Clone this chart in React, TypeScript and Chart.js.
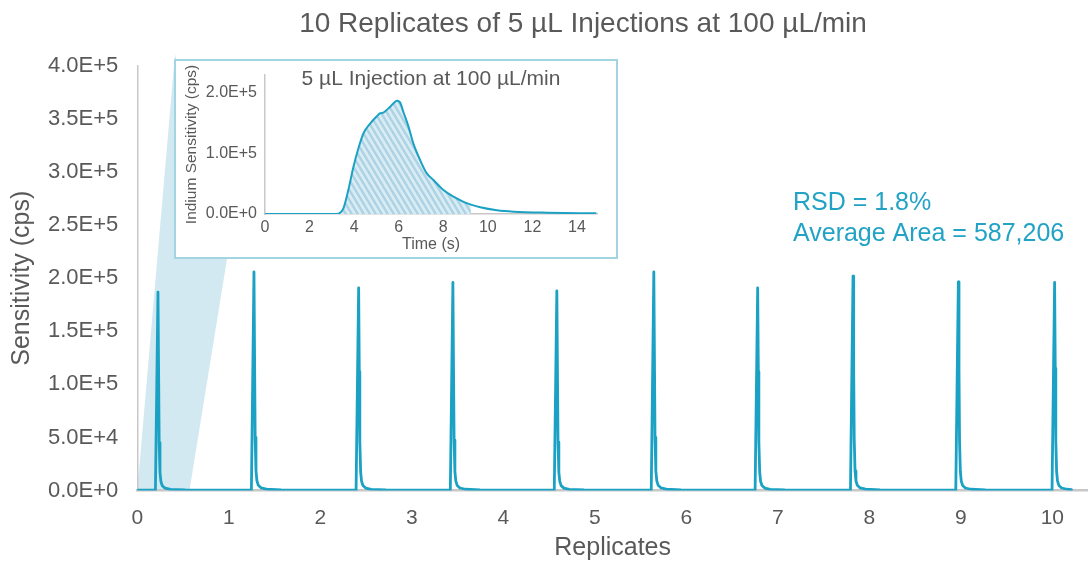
import { useEffect, useRef } from 'react';
import { Chart, registerables } from 'chart.js';

Chart.register(...registerables);

// ---------- text ----------
const TITLE = '10 Replicates of 5 µL Injections at 100 µL/min';
const X_TITLE = 'Replicates';
const Y_TITLE = 'Sensitivity (cps)';
const RSD_TEXT = 'RSD = 1.8%';
const AREA_TEXT = 'Average Area = 587,206';
const INSET_TITLE = '5 µL Injection at 100 µL/min';
const INSET_X_TITLE = 'Time (s)';
const INSET_Y_TITLE = 'Indium Sensitivity (cps)';

// ---------- ticks ----------
const X_TICKS = [0, 1, 2, 3, 4, 5, 6, 7, 8, 9, 10];
const Y_TICKS = [0, 50000, 100000, 150000, 200000, 250000, 300000, 350000, 400000];
const INSET_X_TICKS = [0, 2, 4, 6, 8, 10, 12, 14];
const INSET_Y_TICKS = [0, 100000, 200000];

// ---------- main trace: 10 replicate injections (x in replicates, y in cps) ----------
const rep1X = [0, 0.198, 0.226, 0.233, 0.239, 0.248, 0.258, 0.273, 0.303, 0.363, 0.523];
const rep1Y = [400, 400, 187000, 110000, 45000, 17000, 8500, 4500, 2200, 1100, 560];
const rep2X = [1.247, 1.275, 1.282, 1.288, 1.297, 1.307, 1.322, 1.352, 1.412, 1.572];
const rep2Y = [400, 206000, 121000, 50000, 18800, 9400, 5000, 2500, 1200, 600];
const rep3X = [2.391, 2.419, 2.426, 2.432, 2.441, 2.451, 2.466, 2.496, 2.556, 2.716];
const rep3Y = [400, 191000, 112000, 46000, 17400, 8700, 4700, 2300, 1150, 570];
const rep4X = [3.421, 3.449, 3.456, 3.462, 3.471, 3.481, 3.496, 3.526, 3.586, 3.746];
const rep4Y = [400, 196000, 115000, 47500, 17900, 8900, 4800, 2350, 1180, 590];
const rep5X = [4.557, 4.585, 4.592, 4.598, 4.607, 4.617, 4.632, 4.662, 4.722, 4.882];
const rep5Y = [400, 188000, 110000, 45500, 17100, 8600, 4600, 2250, 1130, 560];
const rep6X = [5.617, 5.645, 5.652, 5.658, 5.667, 5.677, 5.692, 5.722, 5.782, 5.942];
const rep6Y = [400, 206000, 121000, 50000, 18800, 9400, 5000, 2500, 1200, 600];
const rep7X = [6.752, 6.78, 6.787, 6.793, 6.802, 6.812, 6.827, 6.857, 6.917, 7.077];
const rep7Y = [400, 191000, 112000, 46000, 17400, 8700, 4700, 2300, 1150, 570];
const rep8X = [7.794, 7.822, 7.829, 7.835, 7.844, 7.854, 7.869, 7.899, 7.959, 8.119];
const rep8Y = [400, 202000, 118000, 49000, 18400, 9200, 4900, 2400, 1200, 600];
const rep9X = [8.945, 8.973, 8.98, 8.986, 8.995, 9.005, 9.02, 9.05, 9.11, 9.27];
const rep9Y = [400, 196500, 115000, 47500, 17900, 8900, 4800, 2350, 1180, 590];
const rep10X = [9.997, 10.025, 10.032, 10.038, 10.047, 10.057, 10.072, 10.102, 10.162, 10.21];
const rep10Y = [400, 196000, 115000, 47500, 17900, 8900, 4800, 2350, 1180, 900];

const REPLICATE_X = [rep1X, rep2X, rep3X, rep4X, rep5X, rep6X, rep7X, rep8X, rep9X, rep10X];
const REPLICATE_Y = [rep1Y, rep2Y, rep3Y, rep4Y, rep5Y, rep6Y, rep7Y, rep8Y, rep9Y, rep10Y];

// zoomed region of the main trace shown by the inset (replicate units)
const ZOOM_FROM = 0;
const ZOOM_TO = 0.57;

// ---------- inset: single injection (time s, cps) ----------
const INSET_TIME = [0, 3.22, 3.29, 3.52, 3.74, 3.97, 4.19, 4.42, 4.72, 5.02, 5.17, 5.31, 5.54, 5.76, 5.92, 6.06, 6.21, 6.44, 6.66, 6.96, 7.26, 7.56, 8.01, 8.46, 8.91, 9.24, 9.66, 10.41, 11.16, 12.65, 14.87];
const INSET_SIGNAL = [0, 0, 500, 9400, 39500, 78000, 108000, 133000, 149000, 161000, 166000, 167000, 174000, 182000, 186500, 184000, 168000, 144000, 116000, 89000, 67000, 56000, 39500, 28500, 20000, 15500, 11000, 6100, 3800, 2100, 1100];
const HATCH_FROM = 3.29;
const HATCH_TO = 9.24;

// ---------- styles ----------
const FONT = "'Liberation Sans', Arial, Helvetica, sans-serif";
const TEXT_GREY = '#595959';
const AXIS_GREY = '#c8c8c8';
const TEAL = '#1ba1c3';
const TEAL_TEXT = '#22a3c6';
const WEDGE = '#d2e9f1';
const INSET_BORDER = '#a2d4e1';

const INSET_BOX = { left: 174, top: 59, width: 444, height: 200, border: 2 };

const expLabel = (v: number | string) => Number(v).toExponential(1).toUpperCase();

function makeHatch(): CanvasPattern | string {
  const c = document.createElement('canvas');
  c.width = 6;
  c.height = 10;
  const g = c.getContext('2d');
  if (!g) return '#c5e0ec';
  g.fillStyle = '#d9ecf4';
  g.fillRect(0, 0, 6, 10);
  g.strokeStyle = '#acd2e3';
  g.lineWidth = 2.4;
  for (const k of [-6, 0, 6]) {
    g.beginPath();
    g.moveTo(k - 0.6, -1);
    g.lineTo(k + 6.6, 11);
    g.stroke();
  }
  return g.createPattern(c, 'repeat') || '#c5e0ec';
}

const noScalePadding = (s: any) => {
  s.paddingTop = 0;
  s.paddingBottom = 0;
};

export default function App() {
  const mainRef = useRef<HTMLCanvasElement | null>(null);
  const insetRef = useRef<HTMLCanvasElement | null>(null);

  useEffect(() => {
    document.body.style.margin = '0';
    Chart.defaults.font.family = FONT;
    Chart.defaults.color = TEXT_GREY;

    const mainPoints = REPLICATE_X.flatMap((xs, i) => xs.map((x, j) => ({ x, y: REPLICATE_Y[i][j] })));

    const wedgePlugin = {
      id: 'wedge',
      beforeDraw(chart: any) {
        const { ctx, scales } = chart;
        const xs = scales.x;
        const ys = scales.y;
        const base = ys.getPixelForValue(0);
        ctx.save();
        ctx.fillStyle = WEDGE;
        ctx.beginPath();
        ctx.moveTo(xs.getPixelForValue(ZOOM_FROM), base);
        ctx.lineTo(xs.getPixelForValue(ZOOM_TO), base);
        ctx.lineTo(INSET_BOX.left + 53, INSET_BOX.top + INSET_BOX.height);
        ctx.lineTo(INSET_BOX.left + 1, INSET_BOX.top - 5);
        ctx.closePath();
        ctx.fill();
        ctx.restore();
      },
    };

    const textPlugin = {
      id: 'texts',
      afterDraw(chart: any) {
        const { ctx } = chart;
        ctx.save();
        ctx.textBaseline = 'alphabetic';
        ctx.fillStyle = TEXT_GREY;
        ctx.font = `28px ${FONT}`;
        ctx.textAlign = 'center';
        ctx.fillText(TITLE, 583, 32);
        ctx.fillStyle = TEAL_TEXT;
        ctx.font = `25px ${FONT}`;
        ctx.textAlign = 'left';
        ctx.fillText(RSD_TEXT, 793, 210);
        ctx.fillText(AREA_TEXT, 793, 241);
        ctx.restore();
      },
    };

    const main = new Chart(mainRef.current as HTMLCanvasElement, {
      type: 'line',
      data: {
        datasets: [
          {
            data: mainPoints,
            borderColor: TEAL,
            borderWidth: 2.8,
            pointRadius: 0,
            fill: false,
            tension: 0,
            borderJoinStyle: 'round',
            borderCapStyle: 'round',
          },
        ],
      },
      options: {
        animation: false,
        responsive: false,
        maintainAspectRatio: false,
        layout: { padding: { top: 66, right: 0, bottom: 0, left: 0 } },
        plugins: { legend: { display: false }, tooltip: { enabled: false }, title: { display: false } },
        scales: {
          x: {
            type: 'linear',
            min: 0,
            max: 10.39,
            afterBuildTicks: (s: any) => {
              s.ticks = X_TICKS.map((value) => ({ value }));
            },
            afterFit: (s: any) => {
              s.height = 70.5;
            },
            grid: { display: false, drawTicks: false },
            border: { color: AXIS_GREY, width: 2.5 },
            ticks: { color: TEXT_GREY, font: { size: 21 }, padding: 15, maxRotation: 0, autoSkip: false },
            title: { display: true, text: X_TITLE, color: TEXT_GREY, font: { size: 25, lineHeight: 1 }, padding: { top: 0, bottom: 0 } },
          },
          y: {
            type: 'linear',
            min: 0,
            max: 400000,
            afterBuildTicks: (s: any) => {
              s.ticks = Y_TICKS.map((value) => ({ value }));
            },
            afterFit: (s: any) => {
              s.width = 137.3;
              noScalePadding(s);
            },
            grid: { display: false, drawTicks: false },
            border: { color: AXIS_GREY, width: 1.5 },
            ticks: { color: TEXT_GREY, font: { size: 22 }, padding: 19, callback: (v: any) => expLabel(v) },
            title: { display: true, text: Y_TITLE, color: TEXT_GREY, font: { size: 25, lineHeight: 1.2 }, padding: { top: 7, bottom: 0 } },
          },
        },
      },
      plugins: [wedgePlugin, textPlugin],
    } as any);

    const insetPoints = INSET_TIME.map((x, i) => ({ x, y: INSET_SIGNAL[i] }));
    const hatchPoints = insetPoints.filter((p) => p.x >= HATCH_FROM && p.x <= HATCH_TO);

    const insetTitlePlugin = {
      id: 'insetTitle',
      afterDraw(chart: any) {
        const { ctx, chartArea } = chart;
        ctx.save();
        ctx.fillStyle = TEXT_GREY;
        ctx.font = `21px ${FONT}`;
        ctx.textAlign = 'center';
        ctx.textBaseline = 'alphabetic';
        ctx.fillText(INSET_TITLE, (chartArea.left + chartArea.right) / 2, chartArea.top + 9.5);
        ctx.restore();
      },
    };

    const inset = new Chart(insetRef.current as HTMLCanvasElement, {
      type: 'line',
      data: {
        datasets: [
          {
            data: insetPoints,
            borderColor: TEAL,
            borderWidth: 2,
            pointRadius: 0,
            fill: false,
            cubicInterpolationMode: 'monotone',
            order: 0,
          },
          {
            data: hatchPoints,
            borderWidth: 0,
            borderColor: 'rgba(0,0,0,0)',
            pointRadius: 0,
            fill: 'origin',
            backgroundColor: makeHatch(),
            cubicInterpolationMode: 'monotone',
            order: 1,
          },
        ],
      },
      options: {
        animation: false,
        responsive: false,
        maintainAspectRatio: false,
        layout: { padding: { top: 14, right: 19, bottom: 0, left: 0 } },
        plugins: { legend: { display: false }, tooltip: { enabled: false }, title: { display: false } },
        scales: {
          x: {
            type: 'linear',
            min: 0,
            max: 14.9,
            afterBuildTicks: (s: any) => {
              s.ticks = INSET_X_TICKS.map((value) => ({ value }));
            },
            afterFit: (s: any) => {
              s.height = 43;
            },
            grid: { display: false, drawTicks: false },
            border: { color: AXIS_GREY, width: 1.5 },
            ticks: { color: TEXT_GREY, font: { size: 16 }, padding: 4, maxRotation: 0, autoSkip: false },
            title: { display: true, text: INSET_X_TITLE, color: TEXT_GREY, font: { size: 16, lineHeight: 1.2 }, padding: { top: 0, bottom: 2.4 } },
          },
          y: {
            type: 'linear',
            min: 0,
            max: 229000,
            afterBuildTicks: (s: any) => {
              s.ticks = INSET_Y_TICKS.map((value) => ({ value }));
            },
            afterFit: (s: any) => {
              s.width = 89;
              noScalePadding(s);
            },
            grid: { display: false, drawTicks: false },
            border: { color: AXIS_GREY, width: 1.5 },
            ticks: { color: TEXT_GREY, font: { size: 16 }, padding: 8, callback: (v: any) => expLabel(v) },
            title: { display: true, text: INSET_Y_TITLE, color: TEXT_GREY, font: { size: 15.5, lineHeight: 1.2 }, padding: { top: 6.4, bottom: 0 } },
          },
        },
      },
      plugins: [insetTitlePlugin],
    } as any);

    return () => {
      main.destroy();
      inset.destroy();
    };
  }, []);

  const innerW = INSET_BOX.width - 2 * INSET_BOX.border;
  const innerH = INSET_BOX.height - 2 * INSET_BOX.border;

  return (
    <div style={{ position: 'fixed', left: 0, top: 0, width: 1088, height: 561, background: '#fff', overflow: 'hidden' }}>
      <canvas ref={mainRef} width={1088} height={561} style={{ display: 'block', position: 'absolute', left: 0, top: 0 }} />
      <div
        style={{
          position: 'absolute',
          left: INSET_BOX.left,
          top: INSET_BOX.top,
          width: INSET_BOX.width,
          height: INSET_BOX.height,
          boxSizing: 'border-box',
          border: `${INSET_BOX.border}px solid ${INSET_BORDER}`,
          background: '#fff',
        }}
      >
        <canvas ref={insetRef} width={innerW} height={innerH} style={{ display: 'block' }} />
      </div>
    </div>
  );
}
